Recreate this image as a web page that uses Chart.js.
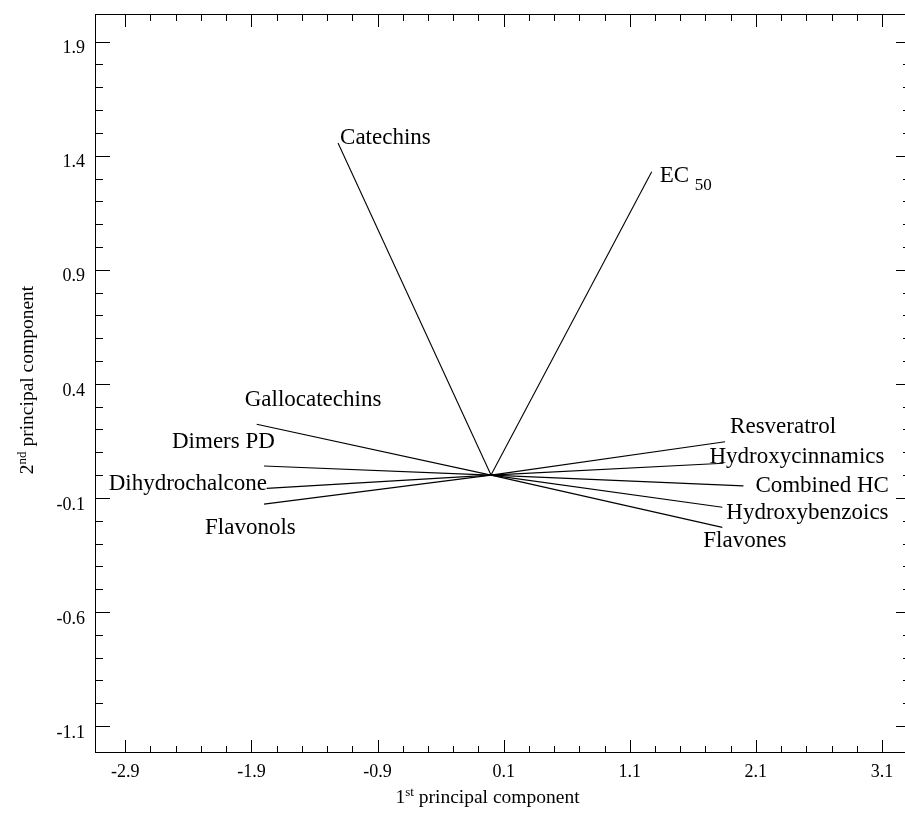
<!DOCTYPE html>
<html>
<head>
<meta charset="utf-8">
<script src="https://cdn.jsdelivr.net/npm/chart.js@4.4.1/dist/chart.umd.min.js"></script>
<style>
  html, body { margin: 0; padding: 0; background: #fff; overflow: hidden; width: 905px; height: 814px; }
  canvas { display: block; }
</style>
</head>
<body>
<canvas id="c" width="912" height="814" style="width:912px;height:814px"></canvas>
<script>
// ---- data ----
const variables = ['Catechins', 'EC50', 'Gallocatechins', 'Dimers PD', 'Dihydrochalcone', 'Flavonols',
                   'Resveratrol', 'Hydroxycinnamics', 'Combined HC', 'Hydroxybenzoics', 'Flavones'];
const pc1Loadings = [-1.213, 1.274, -1.858, -1.800, -1.779, -1.800, 1.856, 1.843, 2.001, 1.834, 1.834];
const pc2Loadings = [1.456, 1.330, 0.223, 0.040, -0.058, -0.127, 0.146, 0.052, -0.047, -0.141, -0.229];
const xTickValues = [-2.9, -1.9, -0.9, 0.1, 1.1, 2.1, 3.1];
const yTickValues = [-1.1, -0.6, -0.1, 0.4, 0.9, 1.4, 1.9];
const xTitle = ['1', 'st', ' principal component'];
const yTitle = ['2', 'nd', ' principal component'];

// ---- styling / layout ----
const FONT = "'Liberation Serif', 'Times New Roman', serif";
// label text offsets (px) from each vector tip: [dx, dy] to text left / baseline
const labelOffsets = [[2, 1], [8, 10], [-12, -18], [-92, -18], [-158, 2], [-59, 30],
                      [5, -9], [-14, 0], [12, 6], [4, 12], [-19, 20]];

const datasets = variables.map((name, i) => ({
  label: name,
  data: [{ x: 0, y: 0 }, { x: pc1Loadings[i], y: pc2Loadings[i] }],
  showLine: true,
  borderColor: '#000',
  borderWidth: 1.1,
  pointRadius: 0,
  pointHoverRadius: 0,
  fill: false
}));

const fmt = v => (Math.round(v * 10) / 10).toFixed(1);
const noPad = s => { s.paddingTop = 0; s.paddingBottom = 0; s.paddingLeft = 0; s.paddingRight = 0; };

const framePlugin = {
  id: 'frame',
  afterDraw(chart) {
    const ctx = chart.ctx, a = chart.chartArea, xs = chart.scales.x, ys = chart.scales.y;
    ctx.save();
    ctx.strokeStyle = '#000';
    ctx.lineWidth = 1;
    ctx.strokeRect(a.left + 0.5, a.top + 0.5, a.right - a.left - 1, a.bottom - a.top - 1);
    ctx.beginPath();
    for (let k = 0; k <= 30; k++) {
      const v = Math.round((xTickValues[0] + 0.2 * k) * 10) / 10;
      const len = (k % 5 === 0) ? 13 : 7;
      const px = Math.round(xs.getPixelForValue(v)) + 0.5;
      ctx.moveTo(px, a.bottom); ctx.lineTo(px, a.bottom - len);
      ctx.moveTo(px, a.top); ctx.lineTo(px, a.top + len);
    }
    for (let k = 0; k <= 30; k++) {
      const v = Math.round((yTickValues[0] + 0.1 * k) * 10) / 10;
      const len = (k % 5 === 0) ? 15 : 8;
      const py = Math.round(ys.getPixelForValue(v)) + 0.5;
      ctx.moveTo(a.left, py); ctx.lineTo(a.left + len, py);
      ctx.moveTo(a.right, py); ctx.lineTo(a.right - len, py);
    }
    ctx.stroke();

    // axis titles with superscripts
    ctx.fillStyle = '#000';
    ctx.textBaseline = 'alphabetic';
    const big = '19.5px ' + FONT, small = '13px ' + FONT;
    function drawTitle(parts, cx, by) {
      ctx.font = big; const w0 = ctx.measureText(parts[0]).width;
      ctx.font = small; const w1 = ctx.measureText(parts[1]).width;
      ctx.font = big; const w2 = ctx.measureText(parts[2]).width;
      let x = cx - (w0 + w1 + w2) / 2;
      ctx.textAlign = 'left';
      ctx.font = big; ctx.fillText(parts[0], x, by); x += w0;
      ctx.font = small; ctx.fillText(parts[1], x, by - 7); x += w1;
      ctx.font = big; ctx.fillText(parts[2], x, by);
    }
    drawTitle(xTitle, 487.5, 802.5);
    ctx.save();
    ctx.translate(32.5, 380);
    ctx.rotate(-Math.PI / 2);
    drawTitle(yTitle, 0, 0);
    ctx.restore();
    ctx.restore();
  },
  afterDatasetsDraw(chart) {
    const ctx = chart.ctx;
    ctx.save();
    ctx.fillStyle = '#000';
    ctx.textAlign = 'left';
    ctx.textBaseline = 'alphabetic';
    chart.data.datasets.forEach((ds, i) => {
      const tip = chart.getDatasetMeta(i).data[1];
      const x = tip.x + labelOffsets[i][0], y = tip.y + labelOffsets[i][1];
      const name = ds.label;
      ctx.font = '23px ' + FONT;
      if (name === 'EC50') {
        const main = 'EC ';
        ctx.fillText(main, x, y);
        const w = ctx.measureText(main).width;
        ctx.font = '17px ' + FONT;
        ctx.fillText('50', x + w, y + 8);
      } else {
        ctx.fillText(name, x, y);
      }
    });
    ctx.restore();
  }
};

new Chart(document.getElementById('c'), {
  type: 'scatter',
  data: { datasets },
  options: {
    responsive: false,
    animation: false,
    devicePixelRatio: 1,
    layout: { padding: { top: 14, right: 1, bottom: 0, left: 0 } },
    plugins: { legend: { display: false }, tooltip: { enabled: false } },
    scales: {
      x: {
        type: 'linear',
        position: 'bottom',
        min: -3.14,
        max: 3.33,
        afterBuildTicks: s => { s.ticks = xTickValues.map(v => ({ value: v })); },
        afterFit: s => { s.height = 61; noPad(s); },
        grid: { display: false, drawTicks: false },
        border: { display: false },
        ticks: {
          autoSkip: false, maxRotation: 0, padding: 8, color: '#000',
          font: { family: FONT, size: 18 },
          callback: v => fmt(v)
        }
      },
      y: {
        type: 'linear',
        position: 'left',
        min: -1.218,
        max: 2.021,
        afterBuildTicks: s => { s.ticks = yTickValues.map(v => ({ value: v })); },
        afterFit: s => { s.width = 95; noPad(s); },
        grid: { display: false, drawTicks: false },
        border: { display: false },
        ticks: {
          autoSkip: false, padding: 10, labelOffset: 7, color: '#000',
          font: { family: FONT, size: 18 },
          callback: v => fmt(v)
        }
      }
    }
  },
  plugins: [framePlugin]
});
</script>
</body>
</html>
